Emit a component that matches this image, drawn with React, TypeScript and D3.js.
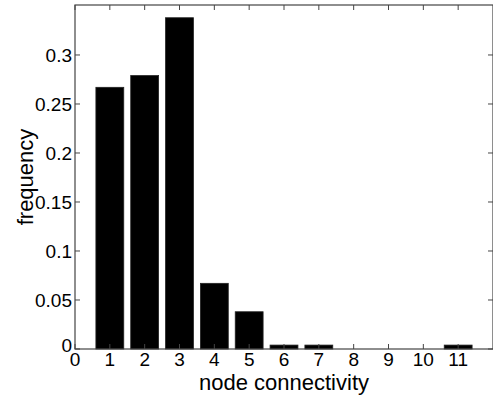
import React, { useRef, useEffect } from 'react';
import * as d3 from 'd3';

// node connectivity histogram
const connectivity = [1, 2, 3, 4, 5, 6, 7, 8, 9, 10, 11];
const frequency = [0.267, 0.279, 0.338, 0.067, 0.038, 0.004, 0.004, 0, 0, 0, 0.004];
const xTicks = [0, 1, 2, 3, 4, 5, 6, 7, 8, 9, 10, 11];
const yTicks = [0, 0.05, 0.1, 0.15, 0.2, 0.25, 0.3];

const width = 493;
const height = 403;
const margin = { top: 5, right: 0, bottom: 54, left: 75 };
const font = "'Liberation Sans', Arial, Helvetica, sans-serif";

function App() {
	const svgRef = useRef<SVGSVGElement>(null);

	useEffect(() => {
		const svg = d3.select(svgRef.current);
		svg.selectAll('*').remove();

		const x = d3.scaleLinear().domain([0, 12]).range([margin.left, width - margin.right]);
		const y = d3.scaleLinear().domain([0, 0.351]).range([height - margin.bottom, margin.top]);
		const barW = (x(1) - x(0)) * 0.8;

		// bars
		svg
			.selectAll('.bar')
			.data(connectivity.map((c, i) => ({ c, v: frequency[i] })).filter((d) => d.v > 0))
			.join('rect')
			.attr('class', 'bar')
			.attr('x', (d) => x(d.c) - barW / 2)
			.attr('width', barW)
			.attr('y', (d) => y(d.v))
			.attr('height', (d) => y(0) - y(d.v))
			.attr('fill', '#000')
			.attr('stroke', '#222')
			.attr('stroke-width', 0.8);

		const axisColor = '#444';
		const x0 = x(0), x1 = x(12), y0 = y(0), y1 = margin.top;

		// box
		svg
			.append('rect')
			.attr('x', x0)
			.attr('y', y1)
			.attr('width', x1 - x0)
			.attr('height', y0 - y1)
			.attr('fill', 'none')
			.attr('stroke', axisColor)
			.attr('stroke-width', 1.2);

		// x ticks (bottom + top, inward)
		const tk = 5;
		svg
			.selectAll('.xt')
			.data(xTicks)
			.join('path')
			.attr('class', 'xt')
			.attr('d', (d) => `M${x(d)},${y0}v${-tk}M${x(d)},${y1}v${tk}`)
			.attr('stroke', axisColor);
		svg
			.selectAll('.xl')
			.data(xTicks)
			.join('text')
			.attr('class', 'xl')
			.attr('x', (d) => x(d))
			.attr('y', 366)
			.attr('text-anchor', 'middle')
			.style('font-family', font)
			.style('font-size', '19px')
			.text((d) => d);

		// y ticks (left + right, inward)
		svg
			.selectAll('.yt')
			.data(yTicks)
			.join('path')
			.attr('class', 'yt')
			.attr('d', (d) => `M${x0},${y(d)}h${tk}M${x1},${y(d)}h${-tk}`)
			.attr('stroke', axisColor);
		svg
			.selectAll('.yl')
			.data(yTicks)
			.join('text')
			.attr('class', 'yl')
			.attr('x', 72)
			.attr('y', (d) => y(d) - (d === 0 ? 4 : 0))
			.attr('dy', '0.35em')
			.attr('text-anchor', 'end')
			.style('font-family', font)
			.style('font-size', '19px')
			.text((d) => d3.format('~g')(d));

		// axis titles
		svg
			.append('text')
			.attr('x', (x0 + x1) / 2)
			.attr('y', 390)
			.attr('text-anchor', 'middle')
			.style('font-family', font)
			.style('font-size', '22px')
			.text('node connectivity');
		svg
			.append('text')
			.attr('transform', `translate(33, ${(y0 + y1) / 2}) rotate(-90)`)
			.attr('text-anchor', 'middle')
			.style('font-family', font)
			.style('font-size', '22px')
			.text('frequency');
	}, []);

	return (
		<svg
			ref={svgRef}
			width={width}
			height={height}
			style={{ position: 'absolute', left: 0, top: 0, background: '#fff' }}
		/>
	);
}

export default App;
